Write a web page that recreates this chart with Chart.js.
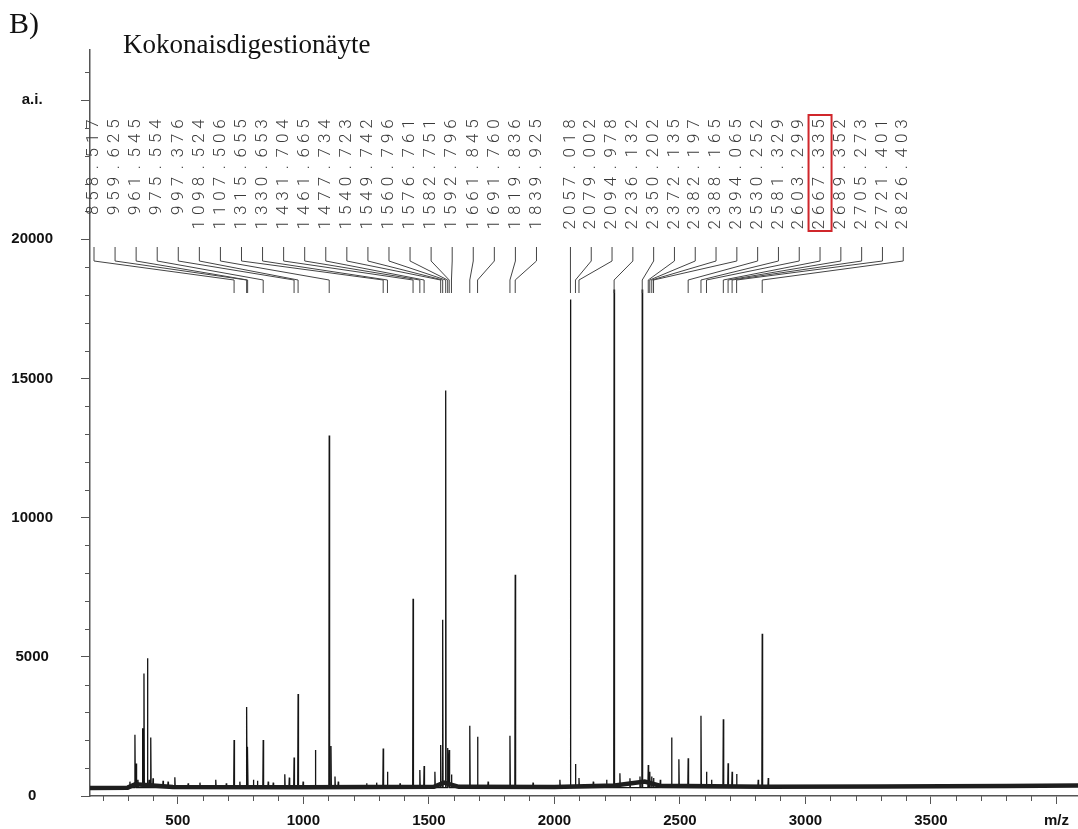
<!DOCTYPE html>
<html>
<head>
<meta charset="utf-8">
<script src="https://cdn.jsdelivr.net/npm/chart.js@4"></script>
<style>
    body { margin: 0; background: #ffffff; }
</style>
</head>
<body>
<canvas id="spectrum" width="1078" height="829"></canvas>
<script>
// Peak positions (m/z, as read against the axis) and heights (a.i.)
const peakMz = [309, 329, 334, 341, 359, 365, 379, 386, 392, 401, 441, 461, 488, 541, 588, 651, 693,
    724, 747, 774, 778, 801, 817, 840, 860, 880, 926, 944, 963, 979, 999, 1048, 1103, 1110, 1126, 1139,
    1252, 1292, 1318, 1335, 1385, 1437, 1464, 1481, 1524, 1547, 1555, 1567, 1575, 1581, 1590, 1663, 1694,
    1736, 1823, 1844, 1915, 2022, 2064, 2084, 2098, 2155, 2208, 2238, 2261, 2301, 2341, 2350, 2374, 2380,
    2388, 2395, 2422, 2467, 2496, 2533, 2584, 2606, 2626, 2673, 2692, 2708, 2726, 2812, 2828, 2852];
const peakIntensity = [515, 2200, 1170, 580, 2430, 4400, 4950, 580, 2100, 640, 550, 515, 670, 455, 480, 580, 455,
    2010, 515, 3200, 1770, 580, 550, 2010, 515, 480, 780, 660, 1380, 3660, 515, 1650, 12950, 1800, 700, 515,
    455, 480, 1710, 870, 455, 7090, 935, 1080, 870, 1830, 6330, 14570, 1720, 1650, 770, 2520, 2130,
    515, 2160, 7950, 480, 580, 17840, 1150, 650, 515, 580, 18200, 820, 640, 700, 18200, 1110, 870,
    700, 650, 580, 2100, 1320, 1360, 2880, 870, 580, 2760, 1180, 870, 790, 580, 5830, 650];

// Noisy baseline level along the spectrum
const baselineMz = [150, 300, 330, 400, 480, 1000, 1520, 1560, 1620, 2000, 2240, 2360, 2420, 2840, 3300, 3800, 4090];
const baselineIntensity = [290, 300, 420, 380, 320, 310, 330, 480, 330, 320, 380, 520, 370, 330, 340, 360, 380];
const footLevel = 300;

// Annotated peaks: printed value and the peak each leader line points to
const peakLabels = [858.517, 959.625, 961.545, 975.554, 997.376, 1098.524, 1107.506, 1315.655, 1330.653,
    1431.704, 1461.665, 1477.734, 1540.723, 1549.742, 1560.796, 1576.761, 1582.751, 1592.796, 1661.845,
    1691.760, 1819.836, 1839.925,
    2057.018, 2079.002, 2094.978, 2236.132, 2350.202, 2372.135, 2382.197, 2388.165, 2394.065, 2530.252,
    2581.329, 2603.299, 2667.335, 2689.352, 2705.273, 2721.401, 2826.403];
const labelPeakMz = [724, 774, 778, 840, 963, 979, 1103, 1318, 1335, 1437, 1464, 1481, 1547, 1555, 1567,
    1575, 1581, 1590, 1663, 1694, 1823, 1844,
    2064, 2084, 2098, 2238, 2350, 2374, 2380, 2388, 2395, 2533, 2584, 2606, 2673, 2692, 2708, 2726, 2828];
const highlightedLabel = 2667.335;

// Axis ticks
const xLabelTicks = [500, 1000, 1500, 2000, 2500, 3000, 3500];
const xUnitTick = 4000;
const yLabelTicks = [0, 5000, 10000, 15000, 20000];
const yUnitTick = 25000;

const titleLetter = "B)";
const titleText = "Kokonaisdigestionäyte";

function buildSticks() {
    const order = peakMz.map((m, i) => i).sort((a, b) => peakMz[a] - peakMz[b]);
    const points = [];
    order.forEach((i) => {
        points.push({ x: peakMz[i] - 1.5, y: footLevel });
        points.push({ x: peakMz[i], y: peakIntensity[i] });
        points.push({ x: peakMz[i] + 1.5, y: footLevel });
    });
    return points;
}

function tickList(from, to, step) {
    const list = [];
    for (let v = from; v <= to; v += step) list.push({ value: v });
    return list;
}

const annotationPlugin = {
    id: "peakAnnotations",
    afterDraw(chart) {
        const ctx = chart.ctx;
        const xs = chart.scales.x;
        const ys = chart.scales.y;
        const area = chart.chartArea;
        ctx.save();

        // minor ticks
        ctx.strokeStyle = "#555";
        ctx.lineWidth = 1;
        ys.ticks.forEach((t) => {
            if (t.value % 5000 === 0) return;
            const py = Math.round(ys.getPixelForValue(t.value)) + 0.5;
            ctx.beginPath();
            ctx.moveTo(area.left - 5, py);
            ctx.lineTo(area.left, py);
            ctx.stroke();
        });
        xs.ticks.forEach((t) => {
            if (t.value % 500 === 0) return;
            const px = Math.round(xs.getPixelForValue(t.value)) + 0.5;
            ctx.beginPath();
            ctx.moveTo(px, area.bottom);
            ctx.lineTo(px, area.bottom + 5);
            ctx.stroke();
        });

        // titles
        ctx.fillStyle = "#111";
        ctx.textAlign = "left";
        ctx.textBaseline = "alphabetic";
        ctx.font = "30px 'Liberation Serif'";
        ctx.fillText(titleLetter, 9, 33);
        ctx.font = "27px 'Liberation Serif'";
        ctx.fillText(titleText, 123, 53);

        // peak labels with leader lines
        const secondGroup = 22;
        const secondStart = xs.getPixelForValue(labelPeakMz[secondGroup]);
        ctx.strokeStyle = "#444";
        ctx.lineWidth = 1;
        ctx.fillStyle = "#3a3a3a";
        ctx.font = "300 17px Roboto";
        ctx.textAlign = "center";
        ctx.textBaseline = "middle";
        for (let i = 0; i < peakLabels.length; i++) {
            const lx = i < secondGroup ? 94 + 21.07 * i : secondStart + 20.8 * (i - secondGroup);
            const px = xs.getPixelForValue(labelPeakMz[i]);
            ctx.beginPath();
            ctx.moveTo(lx, 247);
            ctx.lineTo(lx, 261);
            ctx.lineTo(px, 280);
            ctx.lineTo(px, 293);
            ctx.stroke();

            const s = peakLabels[i].toFixed(3);
            for (let k = 0; k < s.length; k++) {
                const cy = 124 + (s.length - 1 - k) * 14.4;
                ctx.save();
                ctx.translate(lx, cy);
                ctx.rotate(-Math.PI / 2);
                ctx.fillText(s[k], 0, 0);
                ctx.restore();
            }

            if (peakLabels[i] === highlightedLabel) {
                ctx.save();
                ctx.strokeStyle = "#d0262b";
                ctx.lineWidth = 2;
                ctx.strokeRect(lx - 11.5, 115, 23, 116);
                ctx.restore();
            }
        }
        ctx.restore();
    },
};

const ctx = document.getElementById("spectrum").getContext("2d");
new Chart(ctx, {
    type: "scatter",
    data: {
        datasets: [
            {
                data: baselineMz.map((m, i) => ({ x: m, y: baselineIntensity[i] })),
                showLine: true,
                borderColor: "#1e1e1e",
                borderWidth: 4.5,
                pointRadius: 0,
                tension: 0,
            },
            {
                data: buildSticks(),
                showLine: true,
                borderColor: "#151515",
                borderWidth: 1.3,
                pointRadius: 0,
                tension: 0,
            },
        ],
    },
    options: {
        responsive: false,
        animation: false,
        layout: { padding: { top: 50, right: 0, left: 0, bottom: 0 } },
        plugins: {
            legend: { display: false },
            tooltip: { enabled: false },
        },
        scales: {
            x: {
                type: "linear",
                min: 150,
                max: 4086,
                afterBuildTicks: (scale) => { scale.ticks = tickList(200, 4000, 100); },
                afterFit: (scale) => { scale.height = 33; },
                border: { color: "#555", width: 1.5 },
                grid: {
                    drawOnChartArea: false,
                    tickLength: 8,
                    tickColor: (c) => (c.tick && c.tick.value % 500 === 0 ? "#555" : "rgba(0,0,0,0)"),
                },
                ticks: {
                    autoSkip: false,
                    maxRotation: 0,
                    padding: 8,
                    color: "#111",
                    font: { family: "'Liberation Sans'", size: 15, weight: "bold" },
                    callback: (v) => {
                        if (v === xUnitTick) return "m/z";
                        return xLabelTicks.includes(v) ? String(v) : "";
                    },
                },
            },
            y: {
                min: 0,
                max: 26800,
                afterBuildTicks: (scale) => { scale.ticks = tickList(0, 26000, 1000); },
                afterFit: (scale) => {
                    scale.width = 90;
                    scale.paddingTop = 0;
                    scale.paddingBottom = 0;
                },
                border: { color: "#555", width: 1.5 },
                grid: {
                    drawOnChartArea: false,
                    tickLength: 9,
                    tickColor: (c) => (c.tick && c.tick.value % 5000 === 0 ? "#555" : "rgba(0,0,0,0)"),
                },
                ticks: {
                    autoSkip: false,
                    crossAlign: "center",
                    padding: 28,
                    color: "#111",
                    font: { family: "'Liberation Sans'", size: 15, weight: "bold" },
                    callback: (v) => {
                        if (v === yUnitTick) return "a.i.";
                        return yLabelTicks.includes(v) ? String(v) : "";
                    },
                },
            },
        },
    },
    plugins: [annotationPlugin],
});
</script>
</body>
</html>
